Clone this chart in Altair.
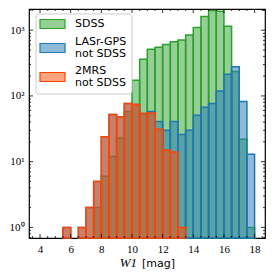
import altair as alt
import pandas as pd

# ---- data ----
bin_lo = [5.5, 6.0, 6.5, 7.0, 7.5, 8.0, 8.5, 9.0, 9.5, 10.0, 10.5, 11.0, 11.5,
          12.0, 12.5, 13.0, 13.5, 14.0, 14.5, 15.0, 15.5, 16.0, 16.5, 17.0, 17.5]
bin_width = 0.5
sdss = [0, 0, 0, 0, 2, 6, 12, 23, 58, 173, 361, 513, 549,
        604, 664, 710, 845, 1096, 1610, 1990, 1940, 1145, 235, 22, 1]
lasr = [1, 0, 1, 2, 5, 24, 52, 48, 77, 74, 54, 58, 41,
        30, 41, 26, 30, 51, 67, 77, 119, 213, 277, 82, 13]
twomrs = [1, 0, 1, 2, 5, 24, 52, 48, 77, 74, 54, 55, 31,
          15, 14, 1, 0, 0, 0, 0, 0, 0, 0, 0, 0]

series_names = ["SDSS", "LASr-GPS\nnot SDSS", "2MRS\nnot SDSS"]
edge_colors = ["#2ca02c", "#1f77b4", "#ff4500"]

x_major = [4, 6, 8, 10, 12, 14, 16, 18]
x_minor = [v / 2 for v in range(7, 38) if v % 4 != 0]
y_major = [1, 10, 100, 1000]
y_minor = [0.7, 0.8, 0.9] + [m * d for d in (1, 10, 100) for m in range(2, 10)] + [2000]

W, H = 236, 229
XDOM = [3.28, 18.68]
YDOM = [0.69, 2100]

xs = alt.Scale(domain=XDOM, nice=False, zero=False)
ys = alt.Scale(type="log", domain=YDOM, nice=False)

SERIF = "Liberation Serif"
SANS = "DejaVu Sans"

XAXIS = alt.Axis(values=x_major, ticks=False, domain=False, grid=False,
                 labelFont=SERIF, labelFontSize=11, labelColor="black",
                 labelPadding=5, title=None, labelFlush=False)
YAXIS = alt.Axis(values=y_major, ticks=False, domain=False, grid=False,
                 labelFont=SERIF, labelFontSize=11, labelColor="black",
                 labelPadding=5, title=None,
                 labelExpr="datum.value == 1 ? '10⁰' : datum.value == 10 ? '10¹' : datum.value == 100 ? '10²' : '10³'")


def hist_layer(counts, color):
    df = pd.DataFrame({"lo": bin_lo, "n": counts})
    df = df[df["n"] > 0].copy()
    df["hi"] = df["lo"] + bin_width
    return alt.Chart(df).mark_bar(fill=color, fillOpacity=0.5, stroke=color, strokeWidth=1.5,
                                  strokeOpacity=1).encode(
        x=alt.X("lo:Q", scale=xs, axis=XAXIS), x2="hi:Q",
        y=alt.Y("n:Q", scale=ys, axis=YAXIS), y2=alt.value(H))


layers = [hist_layer(sdss, edge_colors[0]),
          hist_layer(lasr, edge_colors[1]),
          hist_layer(twomrs, edge_colors[2])]


# inward ticks on all four sides
def xticks(vals, length):
    d = pd.DataFrame({"lo": vals})
    b = alt.Chart(d).mark_rule(color="black", strokeWidth=0.8).encode(
        x=alt.X("lo:Q", scale=xs, axis=XAXIS), y=alt.value(H), y2=alt.value(H - length))
    t = alt.Chart(d).mark_rule(color="black", strokeWidth=0.8).encode(
        x=alt.X("lo:Q", scale=xs, axis=XAXIS), y=alt.value(0), y2=alt.value(length))
    return [b, t]


def yticks(vals, length):
    d = pd.DataFrame({"n": vals})
    l = alt.Chart(d).mark_rule(color="black", strokeWidth=0.8).encode(
        y=alt.Y("n:Q", scale=ys, axis=YAXIS), x=alt.value(0), x2=alt.value(length))
    r = alt.Chart(d).mark_rule(color="black", strokeWidth=0.8).encode(
        y=alt.Y("n:Q", scale=ys, axis=YAXIS), x=alt.value(W), x2=alt.value(W - length))
    return [l, r]


layers += xticks(x_major, 4) + xticks(x_minor, 2) + yticks(y_major, 4) + yticks(y_minor, 2)

# x-axis title
blank = pd.DataFrame({"a": [0]})
layers.append(alt.Chart(blank).mark_text(text="W1", font=SERIF, fontStyle="italic", fontSize=13,
                                         align="right", baseline="alphabetic", color="black").encode(
    x=alt.value(108), y=alt.value(258)))
layers.append(alt.Chart(blank).mark_text(text="[mag]", font=SANS, fontSize=11,
                                         align="left", baseline="alphabetic", color="black").encode(
    x=alt.value(113), y=alt.value(258)))

# legend
layers.append(alt.Chart(blank).mark_rect(fill="white", fillOpacity=0.85, stroke="#cccccc",
                                         strokeWidth=1, cornerRadius=3).encode(
    x=alt.value(7), x2=alt.value(103), y=alt.value(5), y2=alt.value(85)))
patch_y = [(10.5, 19.5), (34.5, 43.5), (63.5, 72.5)]
text_lines = [[("SDSS", 15)], [("LASr-GPS", 32.5), ("not SDSS", 44.5)], [("2MRS", 61.5), ("not SDSS", 73.5)]]
for c, (y0, y1), lines in zip(edge_colors, patch_y, text_lines):
    layers.append(alt.Chart(blank).mark_rect(fill=c, fillOpacity=0.5, stroke=c, strokeWidth=1.2).encode(
        x=alt.value(11), x2=alt.value(36), y=alt.value(y0), y2=alt.value(y1)))
    for txt, ty in lines:
        layers.append(alt.Chart(blank).mark_text(text=txt, font=SANS, fontSize=11, align="left",
                                                 baseline="middle", color="black").encode(
            x=alt.value(46), y=alt.value(ty)))

chart = alt.layer(*layers).properties(
    width=W, height=H,
    autosize=alt.AutoSizeParams(type="none"),
    padding={"left": 21, "top": 1, "right": 1, "bottom": 33},
).configure_view(stroke="black", strokeWidth=1.2)

chart.save("out.html", embed_options={"renderer": "svg", "actions": False})
